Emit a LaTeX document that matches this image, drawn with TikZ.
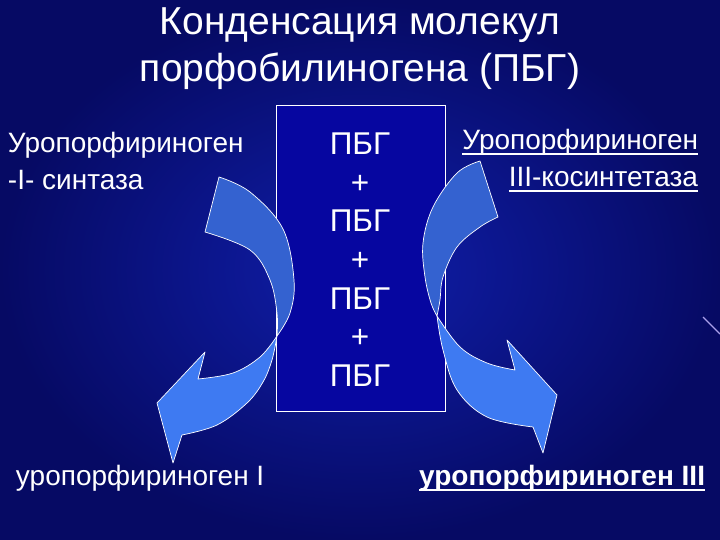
\documentclass[tikz,border=0pt]{standalone}
\usepackage{fontspec}
\setmainfont{Liberation Sans}
\definecolor{bgin}{RGB}{16,30,170}
\definecolor{bgout}{RGB}{6,10,100}
\definecolor{boxblue}{RGB}{6,6,160}
\definecolor{arrdark}{RGB}{52,98,208}
\definecolor{arrlight}{RGB}{62,122,242}
\definecolor{lav}{RGB}{170,160,235}
\tikzset{
  txt/.style={text=white, inner sep=0pt, outer sep=0pt},
  ttl/.style={txt, anchor=base, font=\fontsize{39}{46}\selectfont},
  side/.style={txt, font=\fontsize{28}{33}\selectfont},
  pbg/.style={txt, anchor=base, font=\fontsize{31.5}{37}\selectfont},
  framebox/.style={draw=white, line width=0.8pt, fill=boxblue, inner sep=0pt},
  arrA/.style={fill=arrdark, draw=white, line width=0.7pt, line join=round},
  arrB/.style={fill=arrlight, draw=white, line width=0.7pt, line join=round},
  uline/.style={draw=white, line width=1.3pt},
  ulineb/.style={draw=white, line width=2pt}
}
\begin{document}
\begin{tikzpicture}[x=1pt, y=-1pt]
\useasboundingbox (0,0) rectangle (720,540);
\shade[inner color=bgin, outer color=bgout] (0,0) rectangle (720,540);
\draw[lav, line width=1.2pt] (703,317) -- (720,334);

% title
\node[ttl] (t1) at (360,35) {Конденсация молекул};
\node[ttl] (t2) at (360,82) {порфобилиногена (ПБГ)};

% enzyme labels
\node[side, anchor=base west] (l1) at (8,153) {Уропорфириноген};
\node[side, anchor=base west] (l2) at (8,190) {-I- синтаза};
\node[side, anchor=base east] (r1) at (698,150) {Уропорфириноген};
\node[side, anchor=base east] (r2) at (698,187) {III-косинтетаза};
\draw[uline] ([yshift=-4pt]r1.base west) -- ([yshift=-4pt]r1.base east);
\draw[uline] ([yshift=-4pt]r2.base west) -- ([yshift=-4pt]r2.base east);

% central box
\node[framebox, minimum width=169pt, minimum height=306pt] (box) at (360.5,258) {};
\foreach \t [count=\i] in {ПБГ,+,ПБГ,+,ПБГ,+,ПБГ}{
  \node[pbg] (p\i) at (360,{155+38.5*(\i-1)}) {\t};
}

% left curved arrow
\filldraw[arrA] plot[smooth, tension=0.6] coordinates {(219,177) (250,192) (283,229) (294,280) (290,313) (277,336)}
  -- plot[smooth, tension=0.6] coordinates {(277,336) (277,313) (270,280) (250,250) (205,232)} -- cycle;
\filldraw[arrB] plot[smooth, tension=0.6] coordinates {(277,336) (272,360) (263,382) (247,403) (217,425) (182,435)}
  -- (173,463) -- (157,403) -- (205,352) -- (198,379)
  -- plot[smooth, tension=0.6] coordinates {(198,379) (233,373) (260,357) (277,336)} -- cycle;

% right curved arrow
\filldraw[arrA] plot[smooth, tension=0.6] coordinates {(480,161) (457,173) (433,207) (423,243) (425,277) (431,303) (437,316)}
  -- plot[smooth, tension=0.6] coordinates {(437,316) (440,300) (443,277) (457,247) (480,227) (498,217)} -- cycle;
\filldraw[arrB] plot[smooth, tension=0.6] coordinates {(437,316) (443,350) (457,390) (487,417) (533,427)}
  -- (543,453) -- (557,395) -- (507,340) -- (515,370)
  -- plot[smooth, tension=0.6] coordinates {(515,370) (487,363) (460,347) (437,316)} -- cycle;

% products
\node[side, anchor=base west] (b1) at (16,485) {уропорфириноген I};
\node[side, anchor=base east, font=\fontsize{28}{33}\selectfont\bfseries] (b2) at (705,485) {уропорфириноген III};
\draw[ulineb] ([yshift=-5pt]b2.base west) -- ([yshift=-5pt]b2.base east);
\end{tikzpicture}
\end{document}
